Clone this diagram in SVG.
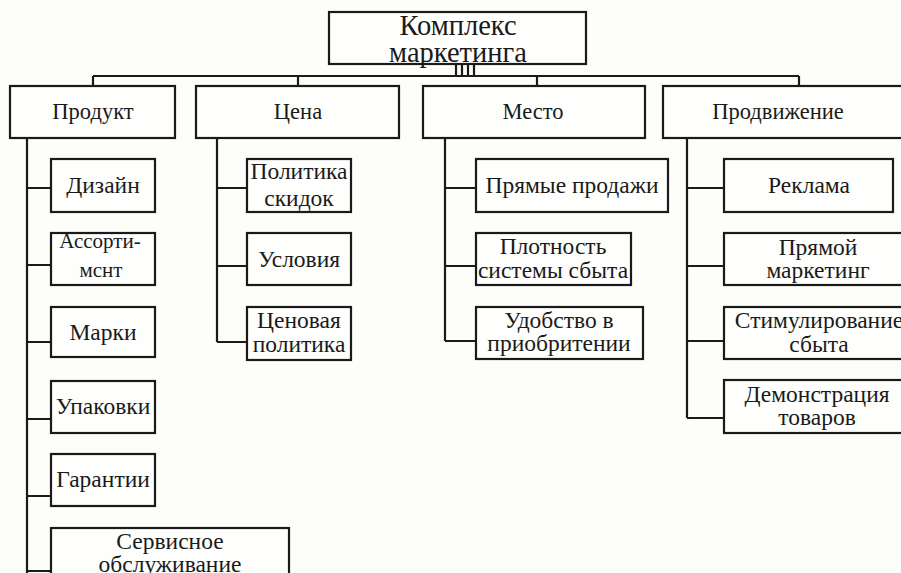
<svg xmlns="http://www.w3.org/2000/svg" width="901" height="573" viewBox="0 0 901 573">
<style>
  .box { fill: #fefefc; stroke: #1a1a1a; stroke-width: 2.2; }
  .ln { fill: none; stroke: #1a1a1a; stroke-width: 2.2; }
  text { font-family: "Liberation Serif", "Times New Roman", "DejaVu Serif", serif; fill: #1a1a1a; text-anchor: middle; }
  .t0 { font-size: 28.5px; }
  .t1 { font-size: 22.5px; }
  .t2 { font-size: 23.5px; }
  .t3 { font-size: 21px; }
</style>
<rect x="0" y="0" width="901" height="573" fill="#fdfdfa"/>

<g id="connectors">
  <path class="ln" d="M93,76 H799 M93,76 V86 M298,76 V86 M537,76 V86 M799,76 V86"/>
  <path class="ln" d="M456,64 V76 M462,64 V76 M468,64 V76 M474,64 V76" stroke-width="1.6"/>
  <path class="ln" d="M27,138 V573 M27,188 H51 M27,265 H51 M27,342 H51 M27,419 H51 M27,496 H51 M27,571 H51"/>
  <path class="ln" d="M217,138 V342 M217,188 H247 M217,266 H247 M217,342 H247"/>
  <path class="ln" d="M445,138 V341 M445,188 H476 M445,266 H476 M445,341 H476"/>
  <path class="ln" d="M687,138 V418 M687,188 H724 M687,266 H724 M687,341 H724 M687,418 H724"/>
</g>

<g id="root">
  <rect class="box" x="329" y="12" width="257" height="52"/>
  <text class="t0" x="458" y="35">Комплекс</text>
  <text class="t0" x="458" y="62">маркетинга</text>
</g>

<g id="product">
  <rect class="box" x="10" y="86" width="165" height="52"/>
  <text class="t1" x="93" y="119">Продукт</text>
</g>
<g id="price">
  <rect class="box" x="196" y="86" width="203" height="52"/>
  <text class="t1" x="298" y="119">Цена</text>
</g>
<g id="place">
  <rect class="box" x="423" y="86" width="222" height="52"/>
  <text class="t1" x="533" y="119">Место</text>
</g>
<g id="promotion">
  <rect class="box" x="663" y="86" width="245" height="52"/>
  <text class="t1" x="778" y="119">Продвижение</text>
</g>

<g id="design">
  <rect class="box" x="51" y="159" width="104" height="53"/>
  <text class="t2" x="103" y="193">Дизайн</text>
</g>
<g id="assortment">
  <rect class="box" x="51" y="233" width="104" height="52"/>
  <text class="t3" x="100" y="248">Ассорти-</text>
  <text class="t3" x="101" y="277">мснт</text>
</g>
<g id="brands">
  <rect class="box" x="51" y="307" width="104" height="50"/>
  <text class="t2" x="103" y="340">Марки</text>
</g>
<g id="packaging">
  <rect class="box" x="51" y="381" width="104" height="52"/>
  <text class="t2" x="103" y="414">Упаковки</text>
</g>
<g id="warranty">
  <rect class="box" x="51" y="454" width="104" height="52"/>
  <text class="t2" x="103" y="487">Гарантии</text>
</g>
<g id="service">
  <rect class="box" x="51" y="528" width="238" height="52"/>
  <text class="t2" x="170" y="549">Сервисное</text>
  <text class="t2" x="170" y="572">обслуживание</text>
</g>

<g id="discounts">
  <rect class="box" x="247" y="159" width="104" height="53"/>
  <text class="t2" x="299" y="179">Политика</text>
  <text class="t2" x="299" y="206">скидок</text>
</g>
<g id="terms">
  <rect class="box" x="247" y="233" width="104" height="52"/>
  <text class="t2" x="299" y="267">Условия</text>
</g>
<g id="pricing">
  <rect class="box" x="247" y="307" width="104" height="53"/>
  <text class="t2" x="299" y="328">Ценовая</text>
  <text class="t2" x="299" y="352">политика</text>
</g>

<g id="direct-sales">
  <rect class="box" x="476" y="159" width="192" height="53"/>
  <text class="t2" x="572" y="193">Прямые продажи</text>
</g>
<g id="density">
  <rect class="box" x="476" y="233" width="155" height="52"/>
  <text class="t2" x="553" y="254">Плотность</text>
  <text class="t2" x="553" y="278">системы сбыта</text>
</g>
<g id="convenience">
  <rect class="box" x="476" y="307" width="167" height="52"/>
  <text class="t2" x="559" y="328">Удобство в</text>
  <text class="t2" x="559" y="351">приобритении</text>
</g>

<g id="advertising">
  <rect class="box" x="724" y="159" width="169" height="53"/>
  <text class="t2" x="809" y="193">Реклама</text>
</g>
<g id="direct-marketing">
  <rect class="box" x="724" y="233" width="190" height="52"/>
  <text class="t2" x="818" y="255">Прямой</text>
  <text class="t2" x="818" y="278">маркетинг</text>
</g>
<g id="sales-promotion">
  <rect class="box" x="724" y="307" width="190" height="52"/>
  <text class="t2" x="819" y="328">Стимулирование</text>
  <text class="t2" x="819" y="352">сбыта</text>
</g>
<g id="demonstration">
  <rect class="box" x="724" y="380" width="190" height="53"/>
  <text class="t2" x="817" y="402">Демонстрация</text>
  <text class="t2" x="817" y="425">товаров</text>
</g>
</svg>
